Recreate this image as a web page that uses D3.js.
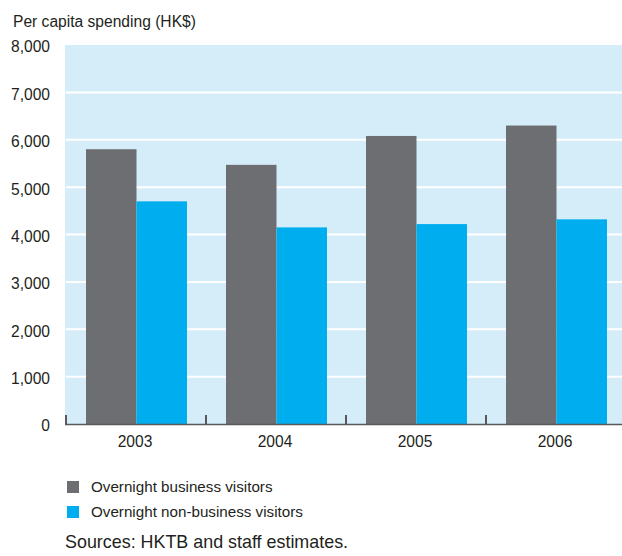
<!DOCTYPE html>
<html>
<head>
<meta charset="utf-8">
<script src="https://cdn.jsdelivr.net/npm/d3@7"></script>
<style>
  body { margin: 0; background: #fff; }
  svg text { font-family: "Liberation Sans", Arial, sans-serif; fill: #231f20; }
</style>
</head>
<body>
<svg id="chart" width="622" height="556"></svg>
<script>
// data
var years = ["2003", "2004", "2005", "2006"];
var seriesNames = ["Overnight business visitors", "Overnight non-business visitors"];
var business = [5800, 5470, 6080, 6300];
var nonBusiness = [4700, 4150, 4220, 4320];
var yTicks = [0, 1000, 2000, 3000, 4000, 5000, 6000, 7000, 8000];
var colors = ["#6d6e71", "#00aeef"];

var margin = {top: 45, right: 0, bottom: 132, left: 65};
var svg = d3.select("#chart");
var width = 622 - margin.left - margin.right;
var height = 556 - margin.top - margin.bottom;

var g = svg.append("g")
    .attr("transform", "translate(" + margin.left + "," + margin.top + ")");

var x = d3.scaleBand()
    .domain(years)
    .range([0, 140 * years.length]);

var inner = d3.scaleBand()
    .domain([0, 1])
    .range([21, 122]);

var y = d3.scaleLinear()
    .domain([0, 8000])
    .range([height, 0]);

// plot background
g.append("rect")
    .attr("x", 0)
    .attr("y", 0)
    .attr("width", width)
    .attr("height", height)
    .attr("fill", "#d5ecf9");

// white gridlines
g.selectAll(".grid")
    .data(yTicks.filter(function(d) { return d > 0 && d < 8000; }))
    .enter()
    .append("line")
    .attr("x1", 1)
    .attr("x2", width)
    .attr("y1", function(d) { return y(d); })
    .attr("y2", function(d) { return y(d); })
    .attr("stroke", "#fff")
    .attr("stroke-width", 2);

// bars
var rows = years.map(function(yr, i) {
    return {year: yr, values: [business[i], nonBusiness[i]]};
});

var groups = g.selectAll(".group")
    .data(rows)
    .enter()
    .append("g")
    .attr("transform", function(d) { return "translate(" + x(d.year) + ",0)"; });

groups.selectAll("rect")
    .data(function(d) { return d.values; })
    .enter()
    .append("rect")
    .attr("x", function(d, i) { return inner(i); })
    .attr("width", inner.bandwidth())
    .attr("y", function(d) { return y(d); })
    .attr("height", function(d) { return height - y(d); })
    .attr("fill", function(d, i) { return colors[i]; });

// y labels
g.selectAll(".ylab")
    .data(yTicks)
    .enter()
    .append("text")
    .attr("x", -15)
    .attr("y", function(d) { return y(d) + 2; })
    .attr("dy", "0.35em")
    .attr("text-anchor", "end")
    .style("font-size", "15.6px")
    .text(function(d) { return d3.format(",")(d); });

// x axis
g.append("line")
    .attr("x1", 0)
    .attr("x2", width)
    .attr("y1", height + 0.5)
    .attr("y2", height + 0.5)
    .attr("stroke", "#58595b")
    .attr("stroke-width", 1.5);

g.selectAll(".tick")
    .data(years)
    .enter()
    .append("line")
    .attr("x1", function(d) { return x(d) + 1; })
    .attr("x2", function(d) { return x(d) + 1; })
    .attr("y1", height - 9)
    .attr("y2", height)
    .attr("stroke", "#58595b")
    .attr("stroke-width", 2);

g.selectAll(".xlab")
    .data(years)
    .enter()
    .append("text")
    .attr("x", function(d) { return x(d) + x.bandwidth() / 2; })
    .attr("y", height + 23)
    .attr("text-anchor", "middle")
    .style("font-size", "15.6px")
    .text(function(d) { return d; });

// title
svg.append("text")
    .attr("x", 13)
    .attr("y", 27)
    .style("font-size", "15.6px")
    .text("Per capita spending (HK$)");

// legend
var legend = svg.selectAll(".legend")
    .data(seriesNames)
    .enter()
    .append("g")
    .attr("transform", function(d, i) { return "translate(67," + (481 + i * 25) + ")"; });

legend.append("rect")
    .attr("width", 12)
    .attr("height", 12)
    .attr("fill", function(d, i) { return colors[i]; });

legend.append("text")
    .attr("x", 24)
    .attr("y", 6)
    .attr("dy", "0.35em")
    .style("font-size", "15.2px")
    .text(function(d) { return d; });

svg.append("text")
    .attr("x", 65)
    .attr("y", 548)
    .style("font-size", "17.9px")
    .text("Sources: HKTB and staff estimates.");
</script>
</body>
</html>
